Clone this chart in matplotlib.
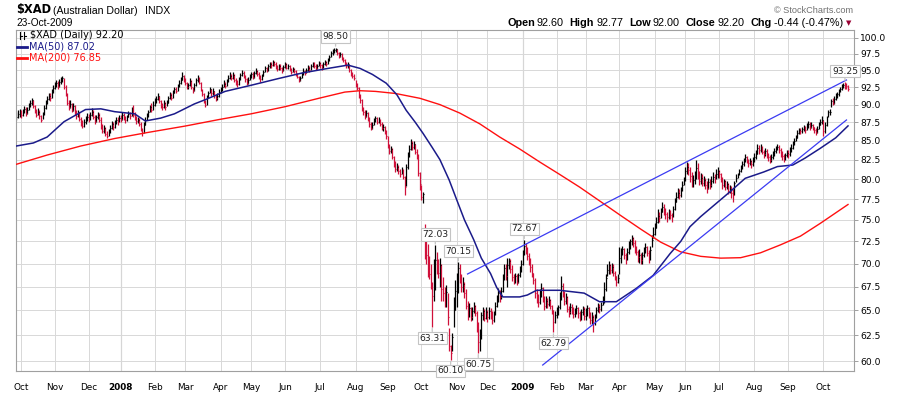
import numpy as np
import matplotlib
matplotlib.use("Agg")
import matplotlib.pyplot as plt
from matplotlib.lines import Line2D
from matplotlib.ticker import FixedLocator, NullLocator

plt.rcParams['font.family'] = ['DejaVu Sans']

# daily bars per calendar month, Sep 2007 .. Oct 2009
bars_per_month = [3, 22, 22, 21, 22, 20, 23, 20, 22, 23, 23, 21, 22, 23, 20, 23,
                  22, 19, 22, 23, 20, 22, 23, 22, 23, 17]
month_labels = ['Oct', 'Nov', 'Dec', '2008', 'Feb', 'Mar', 'Apr', 'May', 'Jun', 'Jul',
                'Aug', 'Sep', 'Oct', 'Nov', 'Dec', '2009', 'Feb', 'Mar', 'Apr', 'May',
                'Jun', 'Jul', 'Aug', 'Sep', 'Oct']

closes = [
    88.3, 88.7, 88.9,
    88.6, 89.0, 89.4, 88.8, 89.3, 89.9, 90.3, 90.6, 89.8, 89.2, 88.6, 89.0, 88.4, 87.9, 88.6, 89.5, 90.2, 90.8, 91.3, 91.0, 91.9, 92.4,
    92.8, 93.2, 92.7, 93.3, 93.6, 93.9, 92.6, 91.5, 90.3, 89.7, 90.1, 89.3, 89.8, 88.9, 88.4, 88.9, 88.0, 87.4, 87.0, 87.5, 87.9, 88.3,
    88.0, 88.6, 89.0, 88.3, 87.7, 88.2, 88.6, 87.9, 87.0, 86.3, 86.7, 85.9, 85.7, 86.2, 86.8, 87.3, 86.9, 87.5, 87.9, 87.6, 88.1,
    88.0, 88.5, 88.2, 87.8, 88.3, 88.7, 88.4, 89.3, 88.6, 88.1, 87.7, 87.9, 87.3, 86.6, 86.0, 87.2, 87.9, 88.4, 88.9, 89.6, 89.3, 90.0,
    90.4, 90.8, 91.2, 90.5, 89.9, 89.6, 90.2, 89.7, 90.3, 90.9, 91.4, 91.0, 91.7, 92.2, 92.0, 92.6, 93.1, 93.6, 94.1, 93.7,
    93.2, 92.6, 92.9, 93.4, 92.5, 92.1, 92.8, 93.5, 93.9, 93.2, 92.3, 91.5, 90.4, 90.0, 91.0, 91.7, 92.2, 91.6, 92.0, 91.4, 90.9, 91.3, 91.8,
    92.1, 92.6, 93.0, 92.7, 93.4, 93.9, 94.2, 93.8, 94.3, 93.6, 93.2, 93.0, 93.7, 94.3, 94.6, 94.1, 93.7, 93.2, 93.6, 94.1,
    94.4, 94.0, 94.6, 94.9, 94.5, 94.0, 93.7, 94.2, 94.8, 95.3, 95.0, 95.6, 96.0, 95.8, 96.3, 96.0, 95.5, 95.2, 95.6, 95.3, 95.0, 95.5,
    95.9, 95.4, 95.7, 95.1, 94.8, 95.2, 94.9, 94.4, 94.0, 93.6, 93.8, 94.4, 94.9, 94.6, 95.1, 95.4, 95.1, 95.6, 96.0, 95.7, 95.3, 95.7, 96.1,
    95.8, 95.4, 95.9, 96.3, 96.0, 96.6, 97.1, 97.6, 97.9, 98.1, 98.2, 97.6, 97.2, 97.5, 96.9, 96.6, 96.0, 95.6, 95.9, 95.0, 94.5, 94.2, 93.8,
    93.0, 92.4, 91.3, 90.6, 89.4, 88.9, 88.4, 88.8, 88.0, 87.3, 86.8, 87.2, 87.8, 88.1, 87.6, 87.9, 87.3, 86.7, 86.9, 86.2, 85.6,
    84.3, 83.6, 83.9, 82.9, 82.0, 81.3, 81.6, 81.0, 80.7, 81.2, 80.3, 79.0, 81.5, 83.0, 83.9, 84.7, 84.2, 84.5, 83.5, 83.0, 80.8, 79.4,
    77.8, 78.1, 72.4, 71.0, 69.2, 68.9, 67.8, 66.5, 69.5, 70.4, 69.6, 69.0, 69.8, 67.2, 66.8, 66.2, 66.9, 64.3, 61.4, 60.8, 62.3, 65.0, 67.0,
    68.4, 69.5, 68.3, 67.4, 67.8, 66.8, 65.5, 64.6, 65.2, 64.3, 64.9, 65.5, 64.7, 63.6, 61.8, 62.3, 64.5, 64.9, 64.2, 64.8,
    64.3, 64.9, 64.5, 64.0, 64.6, 65.5, 66.2, 66.8, 66.4, 67.0, 68.4, 69.5, 68.6, 69.8, 70.3, 69.4, 68.5, 68.2, 68.6, 68.0, 68.7, 69.3, 69.9,
    71.2, 72.0, 71.6, 70.8, 70.3, 69.6, 69.0, 68.2, 66.8, 66.2, 65.9, 66.7, 67.3, 66.2, 65.5, 66.0, 65.7, 66.1, 65.5, 65.0, 63.8, 64.5,
    64.8, 65.3, 66.5, 67.6, 66.8, 66.0, 66.4, 65.1, 64.8, 65.4, 65.0, 64.6, 64.9, 65.2, 64.7, 64.2, 64.8, 65.1, 64.4,
    64.8, 65.2, 64.5, 64.0, 64.3, 63.7, 64.3, 65.0, 65.4, 65.1, 65.6, 66.2, 67.2, 68.4, 69.3, 69.8, 69.3, 69.6, 69.0, 68.6, 68.0, 68.4,
    70.6, 71.2, 71.6, 70.9, 70.5, 71.3, 72.0, 72.5, 72.9, 72.3, 71.8, 71.3, 70.7, 71.0, 70.4, 70.9, 71.4, 71.9, 71.2, 70.6, 71.5, 72.6, 73.4,
    74.0, 74.8, 75.5, 75.2, 75.9, 76.5, 76.0, 75.7, 75.3, 75.9, 75.6, 75.1, 76.3, 77.2, 77.8, 78.3, 78.0, 78.6, 79.3, 79.9,
    81.0, 81.6, 81.1, 80.4, 79.5, 79.9, 80.5, 81.4, 80.6, 79.8, 80.2, 79.5, 79.9, 79.3, 78.9, 79.6, 79.2, 79.8, 80.3, 80.0, 80.7, 81.0,
    80.6, 80.0, 79.3, 79.7, 79.0, 79.4, 78.4, 78.8, 78.3, 78.0, 79.5, 80.2, 80.5, 81.0, 81.4, 81.9, 82.3, 82.8, 82.4, 82.0, 82.3, 81.9, 82.5,
    82.9, 83.3, 84.0, 83.7, 84.1, 83.5, 83.2, 83.6, 83.1, 82.8, 82.5, 82.9, 83.2, 83.6, 83.9, 84.2, 83.8, 83.4, 83.0, 82.7, 83.1, 83.4,
    83.2, 83.7, 84.0, 84.5, 85.0, 85.4, 86.1, 86.5, 86.3, 86.6, 86.9, 86.5, 87.0, 87.3, 86.9, 87.2, 86.9, 86.4, 86.2, 86.6, 87.2, 87.5, 87.9,
    86.3, 87.2, 88.1, 88.9, 89.0, 90.5, 90.3, 90.8, 91.2, 91.5, 91.9, 92.3, 92.6, 92.9, 92.8, 92.64, 92.20,
]

highs = [
    88.9, 89.2, 89.4,
    89.2, 89.4, 89.8, 89.6, 89.7, 90.3, 90.7, 91.0, 90.7, 90.0, 89.4, 89.5, 89.2, 88.5, 89.0, 89.9, 90.6, 91.2, 91.7, 91.6, 92.3, 92.8,
    93.3, 93.6, 93.4, 93.7, 94.0, 94.2, 93.8, 92.9, 91.6, 90.6, 90.6, 90.2, 90.3, 89.9, 89.2, 89.3, 89.0, 88.3, 87.8, 88.0, 88.4, 88.8,
    88.7, 89.0, 89.5, 89.2, 88.5, 88.6, 89.0, 88.8, 88.2, 87.3, 87.1, 86.9, 86.3, 86.6, 87.2, 87.7, 87.5, 87.9, 88.3, 88.2, 88.5,
    88.5, 88.9, 88.8, 88.4, 88.6, 89.1, 89.0, 89.6, 90.0, 88.9, 88.4, 88.3, 88.1, 87.5, 86.8, 87.6, 88.3, 88.8, 89.3, 90.0, 90.2, 90.5,
    90.9, 91.3, 91.6, 91.3, 90.7, 90.3, 90.6, 90.4, 90.7, 91.3, 91.8, 91.6, 92.1, 92.6, 92.5, 93.0, 93.5, 94.0, 94.7, 94.3,
    93.9, 93.3, 93.2, 93.8, 93.5, 92.6, 93.1, 93.9, 94.3, 94.0, 93.3, 92.3, 91.6, 90.7, 91.4, 92.0, 92.5, 92.3, 92.4, 92.0, 91.5, 91.7, 92.2,
    92.6, 93.0, 93.5, 93.3, 93.7, 94.3, 94.7, 94.5, 94.7, 94.4, 93.9, 93.5, 94.0, 94.6, 95.0, 94.9, 94.3, 93.9, 94.0, 94.5,
    94.8, 94.7, 94.9, 95.3, 95.1, 94.7, 94.3, 94.5, 95.1, 95.6, 95.5, 95.9, 96.3, 96.3, 96.6, 96.5, 96.2, 95.8, 95.9, 95.9, 95.5, 95.8,
    96.2, 96.1, 96.0, 95.8, 95.3, 95.5, 95.4, 95.0, 94.6, 94.2, 94.2, 94.7, 95.3, 95.1, 95.4, 95.8, 95.6, 95.9, 96.3, 96.2, 95.9, 96.0, 96.4,
    96.3, 96.0, 96.2, 96.6, 96.5, 96.9, 97.4, 97.9, 98.2, 98.4, 98.50, 98.3, 97.8, 97.8, 97.6, 97.1, 96.7, 96.2, 96.2, 95.8, 95.2, 94.8, 94.4,
    93.5, 93.2, 92.5, 91.5, 90.8, 89.6, 89.2, 89.2, 88.9, 88.2, 87.6, 87.6, 88.1, 88.4, 88.3, 88.2, 88.0, 87.5, 87.3, 87.0, 86.5,
    85.7, 84.5, 84.3, 84.0, 83.0, 82.3, 82.0, 81.8, 81.3, 81.6, 81.3, 80.4, 81.9, 83.5, 84.4, 85.2, 85.0, 84.9, 84.6, 83.9, 83.2, 80.9,
    79.3, 78.4, 74.5, 73.0, 72.2, 70.8, 70.0, 68.0, 70.5, 72.03, 71.3, 70.5, 70.6, 70.0, 68.5, 67.5, 67.7, 66.8, 63.2, 61.5, 62.7, 66.4, 68.2,
    69.0, 70.15, 69.9, 68.8, 68.5, 68.0, 67.2, 66.0, 65.8, 65.4, 65.4, 65.9, 65.6, 64.9, 63.8, 63.1, 64.8, 65.4, 65.1, 65.3,
    65.0, 65.4, 65.2, 64.9, 64.9, 65.9, 66.6, 67.3, 67.1, 67.4, 68.9, 70.0, 69.9, 70.6, 70.6, 70.5, 69.8, 68.9, 69.0, 68.9, 69.0, 69.7, 70.4,
    71.5, 72.67, 72.3, 71.9, 71.2, 70.6, 69.9, 69.0, 68.4, 67.2, 66.7, 67.2, 67.9, 67.4, 66.5, 66.5, 66.3, 66.5, 66.2, 65.6, 65.0, 64.9,
    65.3, 65.6, 66.9, 68.6, 67.9, 67.0, 66.8, 66.5, 65.5, 65.8, 65.7, 65.3, 65.2, 65.6, 65.4, 64.9, 65.1, 65.5, 65.3,
    65.2, 65.6, 65.4, 64.8, 64.8, 64.5, 64.6, 65.3, 65.8, 65.7, 65.9, 66.5, 68.0, 68.8, 70.0, 70.3, 70.0, 70.1, 69.9, 69.2, 68.6, 68.9,
    71.8, 71.7, 72.0, 71.7, 71.2, 71.7, 72.5, 72.8, 73.2, 73.0, 72.6, 72.0, 71.5, 71.6, 71.2, 71.3, 71.8, 72.3, 72.0, 71.5, 72.0, 73.2, 74.2,
    74.6, 75.3, 76.3, 75.9, 76.4, 77.2, 76.9, 76.4, 75.9, 76.3, 76.2, 75.8, 76.7, 77.6, 78.4, 78.9, 78.7, 79.0, 79.8, 80.3,
    81.6, 82.2, 82.0, 81.5, 80.9, 80.5, 81.0, 82.5, 82.0, 81.0, 80.8, 80.6, 80.4, 80.1, 79.8, 80.1, 80.0, 80.4, 80.9, 80.7, 81.3, 81.5,
    81.2, 80.8, 80.3, 80.0, 79.9, 79.8, 79.5, 79.3, 79.1, 78.7, 79.8, 80.6, 80.8, 81.3, 81.8, 82.3, 82.7, 83.3, 83.0, 82.6, 82.7, 82.5, 82.9,
    83.4, 83.8, 84.5, 84.4, 84.6, 84.3, 83.8, 84.0, 83.9, 83.4, 83.1, 83.3, 83.6, 84.0, 84.3, 84.5, 84.4, 84.0, 83.6, 83.2, 83.4, 83.8,
    83.7, 84.1, 84.5, 84.9, 85.4, 85.8, 86.5, 86.8, 86.8, 86.9, 87.2, 87.0, 87.4, 87.7, 87.5, 87.5, 87.3, 86.9, 86.7, 87.0, 87.6, 88.0, 88.4,
    87.9, 87.5, 88.4, 89.3, 89.4, 90.8, 90.9, 91.2, 91.6, 91.8, 92.2, 92.6, 93.0, 93.2, 93.25, 93.1, 92.77,
]

lows = [
    87.8, 88.1, 88.3,
    88.1, 88.4, 88.8, 88.4, 88.7, 89.2, 89.7, 90.0, 89.5, 88.8, 88.2, 88.5, 88.0, 87.5, 88.0, 88.6, 89.4, 90.1, 90.6, 90.5, 91.0, 91.7,
    92.2, 92.6, 92.3, 92.6, 93.0, 93.3, 92.3, 91.2, 90.0, 89.2, 89.5, 89.0, 89.1, 88.6, 88.0, 88.2, 87.7, 87.0, 86.7, 86.9, 87.3, 87.7,
    87.6, 87.9, 88.4, 88.0, 87.3, 87.6, 88.0, 87.5, 86.6, 86.0, 86.1, 85.6, 85.4, 85.6, 86.1, 86.6, 86.5, 86.8, 87.3, 87.2, 87.5,
    87.6, 87.9, 87.8, 87.4, 87.7, 88.2, 88.0, 88.4, 88.3, 87.8, 87.3, 87.4, 87.0, 86.3, 85.7, 86.0, 87.1, 87.8, 88.3, 88.9, 88.9, 89.2,
    89.8, 90.2, 90.6, 90.2, 89.5, 89.2, 89.5, 89.3, 89.8, 90.3, 90.8, 90.7, 91.0, 91.6, 91.6, 92.0, 92.5, 93.0, 93.5, 93.3,
    92.9, 92.3, 92.3, 92.7, 92.2, 91.7, 92.0, 92.7, 93.3, 93.0, 92.0, 91.2, 90.2, 89.6, 89.9, 90.9, 91.6, 91.3, 91.4, 91.0, 90.5, 90.7, 91.1,
    91.6, 92.0, 92.5, 92.4, 92.7, 93.3, 93.7, 93.5, 93.7, 93.3, 92.9, 92.6, 92.9, 93.6, 94.1, 93.8, 93.3, 92.8, 93.0, 93.5,
    93.9, 93.7, 93.9, 94.4, 94.2, 93.7, 93.3, 93.6, 94.1, 94.7, 94.7, 94.9, 95.4, 95.4, 95.7, 95.7, 95.2, 94.9, 95.0, 95.0, 94.6, 94.9,
    95.3, 95.2, 95.2, 94.9, 94.5, 94.7, 94.6, 94.2, 93.8, 93.3, 93.4, 93.8, 94.3, 94.3, 94.6, 94.9, 94.8, 95.0, 95.5, 95.4, 95.0, 95.2, 95.6,
    95.3, 95.1, 95.3, 95.8, 95.7, 96.0, 96.5, 97.0, 97.4, 97.6, 97.8, 97.3, 96.9, 97.0, 96.6, 96.3, 95.8, 95.3, 95.4, 94.8, 94.2, 93.9, 93.5,
    92.6, 92.1, 91.0, 90.2, 89.1, 88.5, 88.0, 88.2, 87.7, 86.9, 86.5, 86.6, 87.1, 87.6, 87.3, 87.4, 87.0, 86.4, 86.3, 85.9, 85.2,
    84.0, 83.3, 83.4, 82.6, 81.6, 80.9, 81.0, 80.6, 80.3, 80.6, 80.0, 78.0, 79.1, 81.3, 82.8, 83.8, 83.7, 83.9, 83.2, 82.6, 80.4, 78.6,
    77.4, 77.0, 70.5, 70.0, 68.5, 68.3, 67.2, 63.31, 66.0, 67.1, 68.8, 68.4, 67.5, 66.0, 66.0, 65.4, 65.3, 63.5, 61.0, 60.10, 61.0, 63.3, 65.0,
    65.3, 66.8, 67.9, 66.9, 66.9, 66.3, 65.1, 64.0, 64.3, 63.9, 64.0, 64.7, 64.4, 62.8, 60.75, 61.0, 62.1, 64.0, 63.9, 64.1,
    63.8, 64.1, 64.1, 63.6, 63.8, 64.5, 65.3, 65.9, 65.9, 66.2, 66.9, 68.2, 68.2, 67.5, 69.4, 69.0, 68.1, 67.8, 67.9, 67.7, 67.9, 68.5, 69.1,
    69.8, 70.9, 71.1, 70.4, 69.8, 69.1, 68.5, 67.8, 66.3, 65.8, 65.4, 65.7, 66.4, 65.9, 65.0, 65.2, 65.2, 65.5, 65.1, 64.6, 62.79, 63.7,
    64.2, 64.5, 65.1, 66.1, 66.4, 65.6, 65.7, 64.8, 64.3, 64.6, 64.6, 64.2, 64.3, 64.6, 64.2, 63.9, 64.0, 64.5, 64.0,
    64.0, 64.4, 64.2, 63.6, 63.6, 62.8, 63.5, 64.2, 64.8, 64.7, 64.9, 65.6, 65.8, 67.0, 68.6, 68.9, 68.8, 69.0, 68.6, 68.2, 67.6, 67.9,
    68.8, 70.1, 71.0, 70.5, 70.0, 70.4, 71.1, 71.6, 72.1, 71.9, 71.2, 70.9, 70.2, 70.1, 70.0, 70.0, 70.7, 71.2, 70.8, 70.1, 70.4, 71.9, 72.9,
    73.2, 74.1, 74.6, 74.8, 75.2, 75.9, 75.6, 75.1, 74.8, 75.1, 75.1, 74.8, 75.3, 76.2, 77.2, 77.6, 77.5, 77.8, 78.5, 79.3,
    79.8, 80.6, 80.5, 79.6, 79.0, 79.0, 79.4, 80.0, 80.0, 79.2, 79.4, 79.1, 79.1, 78.8, 78.3, 78.8, 78.8, 79.0, 79.5, 79.5, 80.0, 80.2,
    80.2, 79.6, 78.7, 79.0, 78.6, 78.7, 78.1, 78.2, 77.7, 77.1, 78.0, 79.6, 80.1, 80.5, 80.9, 81.3, 81.7, 82.2, 82.0, 81.5, 81.8, 81.4, 81.7,
    82.2, 82.6, 83.2, 83.3, 83.5, 83.2, 82.7, 83.0, 82.7, 82.3, 82.1, 82.2, 82.6, 83.0, 83.4, 83.7, 83.4, 82.9, 82.5, 82.2, 82.5, 82.9,
    82.7, 83.0, 83.5, 83.9, 84.4, 84.9, 85.4, 85.9, 85.9, 86.0, 86.3, 86.1, 86.4, 86.8, 86.5, 86.7, 86.5, 86.0, 85.8, 86.0, 86.6, 87.1, 87.3,
    85.6, 86.1, 87.0, 88.3, 88.6, 89.6, 89.9, 90.1, 90.6, 91.0, 91.3, 91.8, 92.1, 92.4, 92.3, 92.3, 92.00,
]

# moving averages at bar positions
ma50_idx = [0, 11, 20, 31, 45, 55, 64, 77, 84, 94, 103, 116, 123, 136, 153, 171, 186, 203, 216, 224,
            232, 241, 248, 254, 260, 265, 271, 276, 282, 287, 292, 298, 303, 309, 313, 317, 322, 328,
            333, 339, 354, 370, 380, 391, 404, 415, 426, 433, 439, 446, 465, 475, 487, 496, 506, 514,
            524, 534, 542]
ma50_val = [84.3, 84.7, 85.5, 87.6, 89.3, 89.4, 89.0, 88.7, 87.7, 88.1, 88.7, 90.1, 90.7, 91.9, 92.8,
            93.8, 94.6, 95.3, 95.8, 95.3, 94.4, 93.1, 91.4, 89.2, 87.5, 86.0, 84.1, 82.5, 79.9, 77.4,
            75.0, 72.7, 70.6, 68.9, 67.4, 66.4, 66.4, 66.4, 66.6, 67.1, 67.1, 66.8, 65.9, 65.9, 67.3,
            68.7, 71.1, 72.5, 74.2, 75.4, 78.4, 80.1, 80.9, 81.6, 81.8, 82.7, 84.0, 85.4, 87.02]
ma200_idx = [0, 20, 42, 64, 85, 110, 132, 153, 175, 197, 214, 224, 234, 247, 263, 276, 289, 302,
             315, 328, 341, 354, 367, 380, 394, 407, 420, 433, 446, 459, 472, 485, 498, 511, 524, 542]
ma200_val = [81.9, 83.1, 84.3, 85.3, 86.1, 87.0, 87.9, 88.7, 89.7, 90.9, 91.8, 92.0, 91.9, 91.6,
             90.9, 90.0, 88.8, 87.3, 85.5, 83.9, 82.2, 80.6, 79.0, 77.3, 75.5, 73.9, 72.4, 71.3,
             70.8, 70.6, 70.65, 71.2, 72.1, 73.1, 74.6, 76.85]

# hand drawn trend lines (bar index, price)
upper_line_idx = [294, 541]
upper_line_val = [68.85, 93.57]
lower_line_idx = [343, 541]
lower_line_val = [59.62, 87.84]

peak_tags = [98.50, 72.03, 70.15, 72.67, 93.25]
trough_tags = [63.31, 60.10, 60.75, 62.79]

W, H = 900, 396
RED = '#d0103a'
NAVY = '#1b1b8a'
BLUE = '#3b3bf2'

closes = np.array(closes)
highs = np.array(highs)
lows = np.array(lows)
n = len(closes)
idx = np.arange(n)
month_pos = np.cumsum(bars_per_month)[:-1]


def fx(x):
    return x / W


def fy(y):
    return 1 - y / H


fig = plt.figure(figsize=(W / 100, H / 100), dpi=100)
L, R, T, B = 16, 854, 30, 371
ax = fig.add_axes([fx(L), fy(B), (R - L) / W, (B - T) / H])
ax.set_yscale('log')
ax.set_ylim(59.06, 101.27)
ax.set_xlim(-0.3, 545.9)

yt = np.arange(60, 100.01, 2.5)
ax.set_yticks(yt, labels=[f'{v:.1f}' for v in yt])
ax.yaxis.set_minor_locator(NullLocator())
ax.yaxis.tick_right()
ax.tick_params(axis='y', length=3, width=0.6, color='#909090', pad=1.5, labelsize=6.6)

ax.set_xticks(month_pos, labels=month_labels)
ax.tick_params(axis='x', length=0, pad=9, labelsize=6.4)
for lab in ax.get_xticklabels():
    if lab.get_text().isdigit():
        lab.set_fontweight('bold')

ax.grid(True, color='#d8d8d8', lw=0.7)
ax.set_axisbelow(True)
for p, lab in zip(month_pos, month_labels):
    if lab.isdigit():
        ax.axvline(p, color='#a8a8a8', lw=0.8, zorder=0.5)
for s in ax.spines.values():
    s.set_color('#a0a0a0')
    s.set_linewidth(0.8)

# price bars, red when the close is below the previous close
prev = np.r_[closes[0], closes[:-1]]
cols = np.where(closes < prev, RED, '#000000')
ax.vlines(idx, lows, highs, colors=cols, lw=0.9, zorder=2)
ax.hlines(closes, idx, idx + 0.6, colors=cols, lw=0.8, zorder=2)

ax.plot(ma200_idx, ma200_val, color='#ff1010', lw=1.0, zorder=3, solid_joinstyle='round')
ax.plot(ma50_idx, ma50_val, color=NAVY, lw=1.1, zorder=3, solid_joinstyle='round')
ax.plot(upper_line_idx, upper_line_val, color=BLUE, lw=0.9, zorder=3)
ax.plot(lower_line_idx, lower_line_val, color=BLUE, lw=0.9, zorder=3)


def tag(i, v, above):
    ax.annotate(f'{v:.2f}', xy=(i, v), xytext=(0, 11 if above else -11),
                textcoords='offset pixels', ha='center', va='center', fontsize=6.6,
                color='#202020', annotation_clip=False, zorder=6,
                bbox=dict(boxstyle='square,pad=0.18', fc='white', ec='#c4c4c4', lw=0.8),
                arrowprops=dict(arrowstyle='-', color='#c4c4c4', lw=0.9,
                                shrinkA=0, shrinkB=1))


for v in peak_tags:
    tag(int(np.argmin(np.abs(highs - v))), v, True)
for v in trough_tags:
    tag(int(np.argmin(np.abs(lows - v))), v, False)

# legend in the top left corner of the plot
for x0 in (20, 24):
    fig.add_artist(Line2D([fx(x0), fx(x0)], [fy(39), fy(32)], color='#000000', lw=0.8))
    fig.add_artist(Line2D([fx(x0), fx(x0 + 1.5)], [fy(36), fy(36)], color='#000000', lw=0.8))
fig.text(fx(30), fy(35.5), f'$XAD (Daily) {closes[-1]:.2f}', fontsize=7, va='center')
fig.add_artist(Line2D([fx(17), fx(27)], [fy(46.5), fy(46.5)], color=NAVY, lw=2))
fig.text(fx(29), fy(46.5), f'MA(50) {ma50_val[-1]:.2f}', fontsize=7, color=NAVY, va='center')
fig.add_artist(Line2D([fx(17), fx(27)], [fy(58), fy(58)], color='#ff1010', lw=2))
fig.text(fx(29), fy(58), f'MA(200) {ma200_val[-1]:.2f}', fontsize=7, color='#ff1010', va='center')

# header
fig.text(fx(16), fy(13.5), '$XAD', fontsize=8.3, fontweight='bold', va='baseline')
fig.text(fx(53), fy(13.5), '(Australian Dollar)', fontsize=7.6, family='Liberation Sans', va='baseline')
fig.text(fx(145), fy(13.5), 'INDX', fontsize=7.6, family='Liberation Sans', va='baseline')
fig.text(fx(16), fy(26.5), '23-Oct-2009', fontsize=7.3, family='Liberation Sans', va='baseline')
fig.text(fx(853), fy(13), '\u00a9 StockCharts.com', fontsize=6.6, family='Liberation Sans',
         color='#707070', ha='right', va='baseline')

chg = closes[-1] - closes[-2]
pieces = [('Open', True, 2), ('92.60', False, 6), ('High', True, 2), (f'{highs[-1]:.2f}', False, 6),
          ('Low', True, 2), (f'{lows[-1]:.2f}', False, 6), ('Close', True, 2),
          (f'{closes[-1]:.2f}', False, 6), ('Chg', True, 2),
          (f'{chg:.2f} ({chg / closes[-2] * 100:.2f}%)', False, 0)]
renderer = fig.canvas.get_renderer()
items = []
for s, bold, gap in pieces:
    t = fig.text(0, fy(26.5), s, fontsize=7.8, family='Liberation Sans',
                 fontweight='bold' if bold else 'normal', va='baseline')
    items.append((t, t.get_window_extent(renderer).width, gap))
x = 843 - sum(w + g for _, w, g in items)
for t, w, g in items:
    t.set_x(fx(x))
    x += w + g
fig.text(fx(849), fy(23), '\u25bc', fontsize=5, color='#990033', ha='center', va='center')

fig.savefig('out.png', dpi=100)
